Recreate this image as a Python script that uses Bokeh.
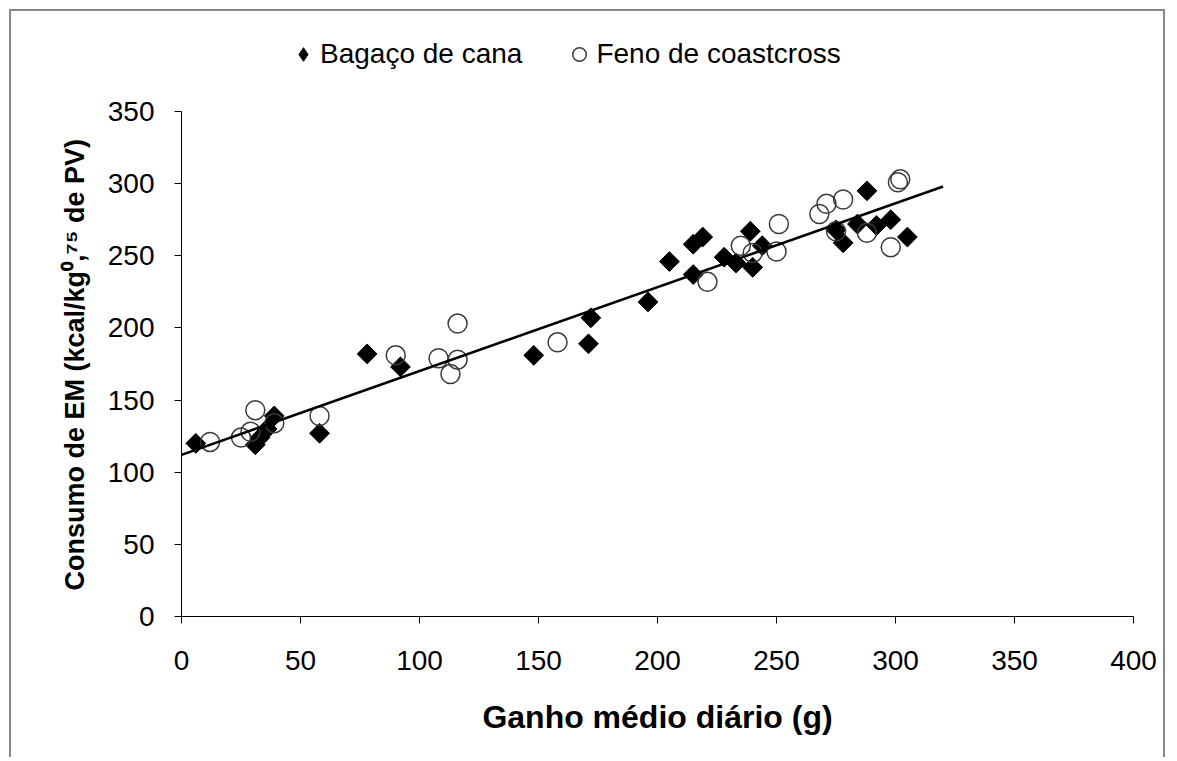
import math
from bokeh.plotting import figure
from bokeh.models import Legend, LegendItem, Range1d, FixedTicker, Title
from bokeh.embed import file_html
from bokeh.resources import INLINE

# ---- data ----
bagaco_x = [6, 31, 33, 36, 39, 58, 78, 92, 148, 171, 172, 196, 205, 215, 219, 215,
            228, 233, 239, 240, 244, 288, 275, 278, 284, 292, 298, 305]
bagaco_y = [120, 119, 124, 130, 139, 127, 182, 173, 181, 189, 207, 218, 246, 258, 263, 237,
            249, 245, 267, 242, 257, 295, 268, 259, 272, 271, 275, 263]

feno_x = [12, 25, 29, 31, 39, 58, 90, 108, 116, 116, 113, 158, 221, 235, 240, 251, 250,
          271, 268, 278, 302, 301, 275, 288, 298]
feno_y = [121, 124, 128, 143, 134, 139, 181, 179, 203, 178, 168, 190, 232, 257, 252, 272, 253,
          286, 279, 289, 303, 301, 267, 266, 256]

trend_x = [0, 320]
trend_y = [112, 298]

x_ticks = [0, 50, 100, 150, 200, 250, 300, 350, 400]
y_ticks = [0, 50, 100, 150, 200, 250, 300, 350]

series_names = ["Bagaço de cana", "Feno de coastcross"]
x_title = "Ganho médio diário (g)"
y_title = "Consumo de EM (kcal/kg⁰,⁷⁵ de PV)"

FONT = "Liberation Sans"

# frame extends above the y axis (axis bounded to 0..350) so that the legend
# can sit inside the frame without being clipped
p = figure(width=1156, height=748, output_backend="svg", toolbar_location=None,
           x_range=Range1d(0, 400), y_range=Range1d(0, 410.3),
           min_border_left=170, min_border_right=34, min_border_top=13,
           min_border_bottom=143)
p.styles = {"margin-left": "9px", "margin-top": "9px",
            "border-left": "2px solid #878787", "border-top": "2px solid #878787",
            "border-right": "2px solid #878787"}
p.outline_line_color = None
p.grid.visible = False
p.background_fill_color = "white"
p.border_fill_color = "white"

# narrow diamonds (hidden under the square diamonds) give the legend its symbol
rl = p.scatter(bagaco_x, bagaco_y, marker="diamond", size=18,
               fill_color="black", line_color="black")
r1 = p.scatter(bagaco_x, bagaco_y, marker="square", size=14, angle=math.pi / 4,
               fill_color="black", line_color="black")
r2 = p.scatter(feno_x, feno_y, marker="circle", size=19, fill_alpha=0,
               line_color="#3a3a3a", line_width=1.5)
p.line(trend_x, trend_y, line_color="black", line_width=2.5)

for ax in (p.xaxis[0], p.yaxis[0]):
    ax.axis_line_color = "black"
    ax.axis_line_width = 1
    ax.major_tick_line_color = "black"
    ax.major_tick_out = 7
    ax.major_tick_in = 0
    ax.minor_tick_line_color = None
    ax.major_label_text_font = FONT
    ax.major_label_text_font_size = "28px"
    ax.major_label_text_color = "black"
    ax.axis_label_text_font = FONT
    ax.axis_label_text_font_style = "bold"
    ax.axis_label_text_color = "black"

p.xaxis[0].ticker = FixedTicker(ticks=x_ticks)
p.yaxis[0].ticker = FixedTicker(ticks=y_ticks)
p.yaxis[0].bounds = (0, 350)
p.xaxis[0].axis_label = x_title
p.xaxis[0].axis_label_text_font_size = "32px"
p.xaxis[0].major_label_standoff = 27
p.yaxis[0].major_label_standoff = 20
p.xaxis[0].axis_label_standoff = 26

# y title placed beside the axis, aligned to the axis span (0..350)
ytitle = Title(text=y_title, align="left", offset=26, standoff=30,
               text_font=FONT, text_font_size="27px", text_font_style="bold",
               text_color="black")
p.add_layout(ytitle, "left")

legend = Legend(items=[LegendItem(label=series_names[0], renderers=[rl]),
                       LegendItem(label=series_names[1], renderers=[r2])],
                orientation="horizontal", location=(105, 545),
                label_text_font=FONT, label_text_font_size="28px",
                label_text_color="black",
                glyph_width=34, glyph_height=34, label_standoff=0, spacing=40,
                border_line_color=None, background_fill_alpha=0, padding=0, margin=0)
p.add_layout(legend)

open("out.html", "w").write(file_html(p, INLINE))
